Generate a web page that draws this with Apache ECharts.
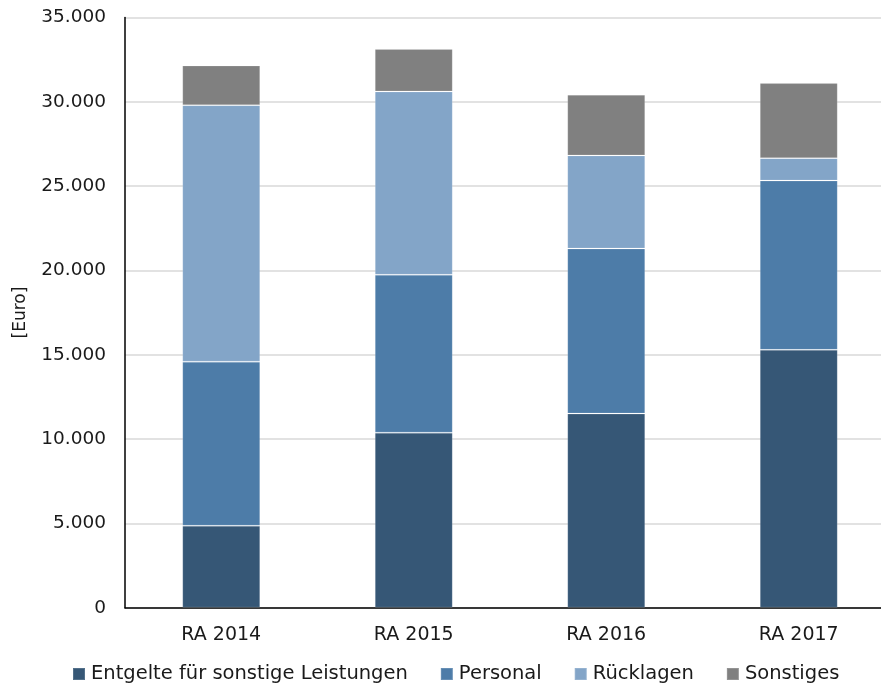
<!DOCTYPE html>
<html>
<head>
<meta charset="utf-8">
<script src="https://cdn.jsdelivr.net/npm/echarts@6/dist/echarts.min.js"></script>
<style>
  html, body { margin: 0; padding: 0; background: #fff; }
  #chart { width: 881px; height: 684px; }
</style>
</head>
<body>
<div id="chart"></div>
<script>
// Budget breakdown per year (Euro)
const categories = ['RA 2014', 'RA 2015', 'RA 2016', 'RA 2017'];
const entgelte   = [4860, 10380, 11510, 15290];
const personal   = [9730, 9360, 9790, 10040];
const ruecklagen = [15210, 10870, 5520, 1330];
const sonstiges  = [2350, 2520, 3600, 4450];
const yTicks = [0, 5000, 10000, 15000, 20000, 25000, 30000, 35000];

const seriesNames = ['Entgelte für sonstige Leistungen', 'Personal', 'Rücklagen', 'Sonstiges'];
const seriesData = [entgelte, personal, ruecklagen, sonstiges];
const colors = ['#365776', '#4d7ca8', '#83a5c8', '#808080'];

const font = 'DejaVu Sans, Verdana, sans-serif';

const chart = echarts.init(document.getElementById('chart'), null, { renderer: 'canvas' });

chart.setOption({
  animation: false,
  color: colors,
  textStyle: { fontFamily: font },
  grid: {
    left: 125, top: 17.5, bottom: 76.3, width: 770,
    containLabel: false, outerBoundsMode: 'none'
  },
  legend: {
    top: 659,
    left: 67,
    itemWidth: 12,
    itemHeight: 12,
    itemGap: 32,
    icon: 'rect',
    textStyle: { fontFamily: font, fontSize: 19.5, color: '#1a1a1a', padding: [0, 0, 0, 1] },
    data: seriesNames
  },
  xAxis: {
    type: 'category',
    data: categories,
    axisLine: { lineStyle: { color: '#000', width: 1.5 } },
    axisTick: { show: false },
    axisLabel: { fontFamily: font, fontSize: 19, color: '#1a1a1a', margin: 18 }
  },
  yAxis: {
    type: 'value',
    min: yTicks[0],
    max: yTicks[yTicks.length - 1],
    interval: 5000,
    name: '[Euro]',
    nameLocation: 'middle',
    nameRotate: 90,
    nameGap: 96,
    nameTextStyle: { fontFamily: font, fontSize: 17, color: '#1a1a1a' },
    axisLine: { show: true, lineStyle: { color: '#000', width: 1.5 } },
    axisTick: { show: false },
    splitLine: { lineStyle: { color: '#d9d9d9', width: 1.5 } },
    axisLabel: {
      fontFamily: font,
      fontSize: 18.5,
      color: '#1a1a1a',
      margin: 19,
      formatter: v => v === 0 ? '0' : v.toLocaleString('de-DE')
    }
  },
  series: seriesNames.map((name, i) => ({
    name,
    type: 'bar',
    stack: 'total',
    barWidth: '40.5%',
    data: seriesData[i],
    itemStyle: { borderColor: 'rgba(255,255,255,0.15)', borderWidth: 1 }
  }))
});
</script>
</body>
</html>
